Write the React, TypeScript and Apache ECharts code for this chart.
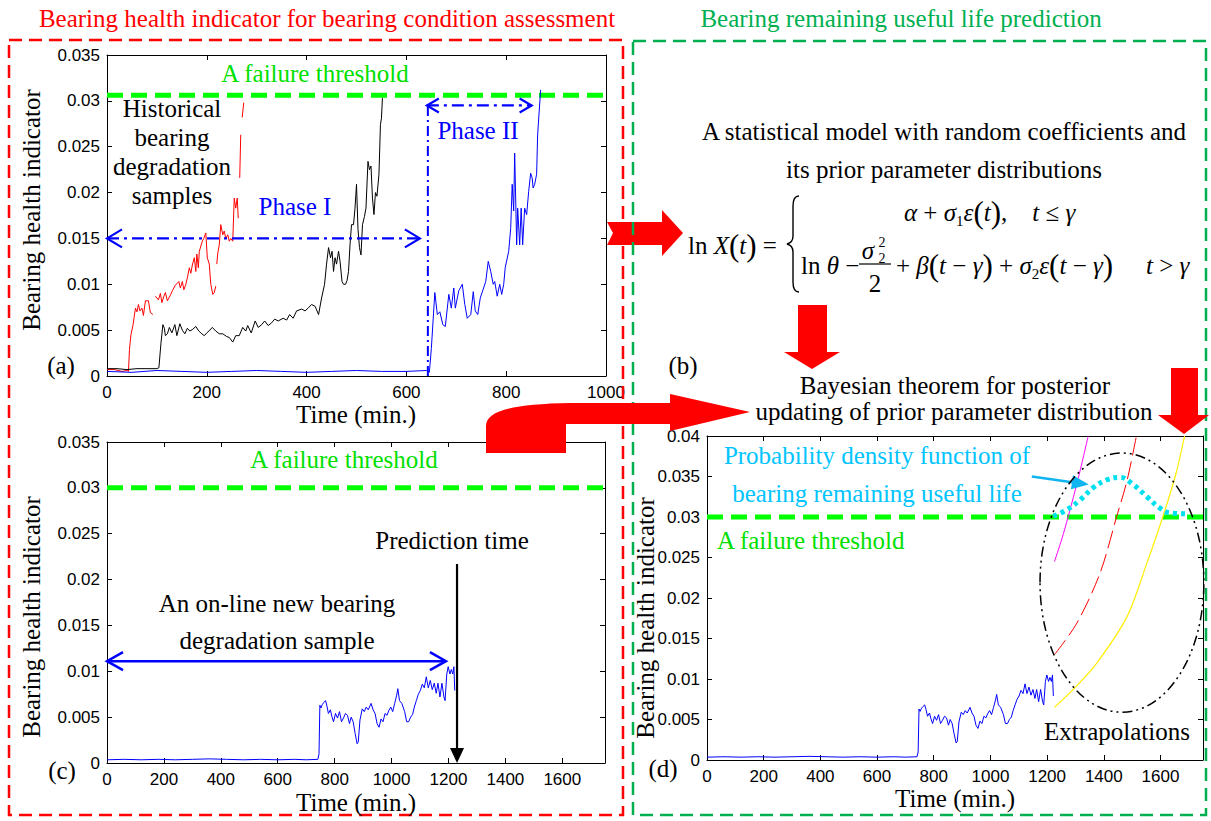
import React, { useEffect, useRef } from 'react';
import * as echarts from 'echarts';

const W = 1211;
const H = 821;
const SERIF = "'Liberation Serif', 'Times New Roman', serif";
const SANS = "'Liberation Sans', Arial, sans-serif";

// ---------- panel (a): historical degradation samples ----------
const redA1 = [[0, 0.0007], [15, 0.0007], [30, 0.0005], [40, 0.0006], [43, 0.0005], [45, 0.0029], [48, 0.0045], [52, 0.0055], [57, 0.0074], [60, 0.007], [63, 0.0078], [66, 0.0071], [70, 0.0074], [73, 0.0066], [77, 0.0082], [83, 0.0082], [87, 0.0069], [90, 0.0068], [92, 0.0067]];
const redA2 = [[97, 0.0087], [103, 0.0083], [107, 0.009], [110, 0.008], [114, 0.0087], [117, 0.0091], [121, 0.0082], [127, 0.0088], [131, 0.0093], [137, 0.0099], [144, 0.0103], [147, 0.0096], [151, 0.0103], [154, 0.0094], [158, 0.01], [161, 0.0107], [165, 0.0118], [168, 0.0112], [171, 0.0121], [175, 0.0129], [178, 0.0114], [180, 0.0133], [183, 0.0118], [185, 0.0136], [191, 0.0147], [194, 0.015], [198, 0.0156], [201, 0.0129], [205, 0.0122], [208, 0.01], [212, 0.0089], [215, 0.0091], [218, 0.0098]];
const redA3 = [[220, 0.0122], [222, 0.0134], [225, 0.0143], [228, 0.0165], [232, 0.0154], [235, 0.0158], [238, 0.015], [242, 0.0154], [245, 0.0147], [248, 0.015], [252, 0.0147], [255, 0.0194], [258, 0.0183], [261, 0.0194], [263, 0.0172]];
const redA4 = [[266, 0.0216], [268, 0.0263]];
const redA5 = [[271, 0.0282], [274, 0.0298]];

const blackA = [[0, 0.0008], [20, 0.0008], [40, 0.0007], [60, 0.0008], [80, 0.0008], [100, 0.0008], [104, 0.0009], [108, 0.0035], [112, 0.0056], [115, 0.0052], [117, 0.0044], [121, 0.0046], [125, 0.0053], [130, 0.0047], [136, 0.0056], [140, 0.0044], [146, 0.0057], [151, 0.005], [156, 0.0046], [161, 0.0052], [166, 0.0049], [172, 0.0051], [178, 0.0054], [184, 0.0049], [190, 0.0046], [195, 0.0044], [200, 0.0047], [206, 0.005], [211, 0.0053], [218, 0.0049], [225, 0.0046], [232, 0.0046], [240, 0.0043], [245, 0.0042], [252, 0.0037], [258, 0.0044], [265, 0.0044], [272, 0.0053], [278, 0.0049], [282, 0.0055], [289, 0.0047], [297, 0.006], [303, 0.0053], [310, 0.0056], [316, 0.006], [323, 0.0055], [330, 0.0058], [336, 0.0062], [343, 0.006], [353, 0.0063], [360, 0.0061], [366, 0.0067], [373, 0.0063], [380, 0.0071], [390, 0.0073], [397, 0.0071], [403, 0.0074], [410, 0.0078], [417, 0.0076], [424, 0.0067], [430, 0.0085], [436, 0.01], [440, 0.0122], [444, 0.014], [448, 0.0129], [451, 0.0136], [454, 0.0114], [457, 0.0129], [460, 0.0122], [464, 0.0136], [467, 0.0125], [471, 0.0103], [474, 0.01], [478, 0.01], [481, 0.0104], [484, 0.0114], [487, 0.0143], [490, 0.0165], [494, 0.0165], [497, 0.0183], [500, 0.0209], [503, 0.016], [506, 0.014], [509, 0.0132], [512, 0.0165], [516, 0.0174], [519, 0.0183], [523, 0.0234], [526, 0.0225], [529, 0.0229], [532, 0.0194], [535, 0.0176], [538, 0.02], [541, 0.0196], [545, 0.022], [548, 0.0274], [550, 0.0281], [552, 0.0303]];

const blueA = [[0, 0.0005], [50, 0.0004], [100, 0.0006], [150, 0.0005], [200, 0.0004], [250, 0.0005], [300, 0.0006], [350, 0.0005], [400, 0.0004], [450, 0.0005], [500, 0.0006], [550, 0.0005], [600, 0.0005], [640, 0.0006], [646, 0.0004], [650, 0.003], [657, 0.0091], [662, 0.0067], [667, 0.007], [673, 0.0056], [678, 0.0054], [685, 0.0089], [690, 0.0074], [695, 0.0096], [698, 0.0074], [705, 0.0093], [712, 0.01], [717, 0.0078], [722, 0.0063], [729, 0.0067], [734, 0.0092], [738, 0.0071], [743, 0.0067], [748, 0.0085], [759, 0.0103], [764, 0.0125], [769, 0.0114], [774, 0.01], [777, 0.0103], [782, 0.0087], [787, 0.01], [791, 0.0089], [795, 0.01], [798, 0.0118], [805, 0.0136], [809, 0.0161], [812, 0.0209], [815, 0.018], [817, 0.0243], [821, 0.0143], [823, 0.0183], [827, 0.0143], [830, 0.0183], [833, 0.0143], [837, 0.0183], [841, 0.0176], [845, 0.0201], [849, 0.0221], [852, 0.0216], [854, 0.0205], [857, 0.0209], [861, 0.022], [863, 0.0263], [869, 0.0312]];

const thresholdA = 0.0306;
const phaseSplit = 643;
const phaseOne = [0, 627, 0.015];
const phaseTwo = [641, 851, 0.0295];

// ---------- panels (c) and (d): on-line bearing ----------
const blueOnline = [[0, 0.00035], [60, 0.0004], [120, 0.00035], [180, 0.0004], [240, 0.00035], [300, 0.0004], [360, 0.00045], [420, 0.0004], [480, 0.00035], [540, 0.0004], [600, 0.00035], [660, 0.0004], [700, 0.00035], [741, 0.0004], [745, 0.001], [748, 0.0063], [752, 0.006], [757, 0.0064], [762, 0.0066], [768, 0.0068], [773, 0.0062], [778, 0.0054], [785, 0.0058], [790, 0.0051], [796, 0.0045], [803, 0.0054], [810, 0.0049], [817, 0.0056], [824, 0.0045], [831, 0.0049], [838, 0.0054], [845, 0.0052], [852, 0.0043], [858, 0.005], [865, 0.0045], [872, 0.0032], [879, 0.0021], [883, 0.0023], [889, 0.0047], [897, 0.0059], [904, 0.0056], [911, 0.0061], [918, 0.0058], [928, 0.0065], [935, 0.0058], [942, 0.0054], [949, 0.0043], [956, 0.0039], [963, 0.0048], [970, 0.0045], [977, 0.0054], [984, 0.0052], [990, 0.0057], [997, 0.0061], [1004, 0.0056], [1011, 0.0065], [1018, 0.0074], [1022, 0.0081], [1028, 0.0068], [1036, 0.0065], [1046, 0.0056], [1053, 0.0045], [1060, 0.0045], [1067, 0.005], [1074, 0.0053], [1080, 0.0061], [1087, 0.0068], [1094, 0.0075], [1101, 0.0079], [1108, 0.0086], [1115, 0.0082], [1122, 0.0094], [1129, 0.0082], [1136, 0.009], [1143, 0.008], [1150, 0.0087], [1157, 0.0076], [1163, 0.0087], [1170, 0.0072], [1177, 0.0087], [1184, 0.0072], [1188, 0.0068], [1194, 0.0097], [1199, 0.0105], [1205, 0.0097], [1210, 0.0102], [1215, 0.0097], [1219, 0.0105], [1222, 0.0079]];

const thresholdCD = 0.03;
const onlineSpan = [0, 1191, 0.0111];
const predictionTime = [1230, 0.0217, 1230, 0];

const extraMagenta = [[1226, 0.0245], [1252, 0.0273], [1274, 0.03], [1310, 0.0348], [1345, 0.04]];
const extraRed = [[1226, 0.013], [1305, 0.0169], [1387, 0.0231], [1445, 0.03], [1482, 0.0345], [1515, 0.04]];
const extraYellow = [[1226, 0.0065], [1300, 0.009], [1376, 0.012], [1482, 0.0177], [1552, 0.0243], [1608, 0.03], [1655, 0.0354], [1685, 0.04]];
const rulPdf = [[1222, 0.0301], [1270, 0.0309], [1316, 0.0321], [1362, 0.0336], [1411, 0.0346], [1457, 0.0349], [1504, 0.034], [1552, 0.0325], [1598, 0.0311], [1633, 0.0305], [1693, 0.0304]];
const pdfPointer = [1146, 0.035, 1347, 0.034];
const extrapolationRing = [1464, 0.0219, 1753, 0.0379];

// ---------- shapes ----------
const SHAPES: Record<string, string> = {
  arrowRight: 'M607,222 L662,222 L662,210 L683,233 L662,256 L662,245 L607,245 L613,233 Z',
  arrowDownB: 'M798,305 L827,305 L827,352 L840,352 L812,369 L784,352 L798,352 Z',
  arrowDownD: 'M1171,368 L1198,368 L1198,415 L1209,415 L1184,434 L1158,415 L1171,415 Z',
  arrowCurve: 'M486,453 L486,426 C486,411 512,404 570,403 L670,403 L670,394 L750,412 L670,431 L670,424 L566,424 L566,453 Z',
  brace: 'M799,196 C794,196 793,200 793,206 L793,236 C793,241 791,243 787,244 C791,245 793,247 793,252 L793,282 C793,288 794,292 799,292',
};

let shapesReady = false;
function registerShapes() {
  if (shapesReady) return;
  Object.keys(SHAPES).forEach((k) => {
    echarts.graphic.registerShape(k, echarts.graphic.extendPath(SHAPES[k], {}));
  });
  shapesReady = true;
}

const xFmt = (v: number) => String(Math.round(v));
const yFmt = (v: number) => (v === 0 ? '0' : String(parseFloat(v.toFixed(4))));

function axesFor(g: number, xMax: number, yMax: number, hideMaxX: boolean) {
  const common = {
    gridIndex: g,
    type: 'value',
    axisLine: { show: true, onZero: false, lineStyle: { color: '#000', width: 1 } },
    axisTick: { show: true, inside: true, length: 5, lineStyle: { color: '#000', width: 1 } },
    splitLine: { show: false },
  };
  const label = { color: '#000', fontFamily: SANS, fontSize: 17 };
  const x = [
    { ...common, position: 'bottom', min: 0, max: xMax, interval: 200, axisLabel: { ...label, margin: 8, showMaxLabel: !hideMaxX, formatter: xFmt } },
    { ...common, position: 'top', min: 0, max: xMax, interval: 200, axisLabel: { show: false } },
  ];
  const y = [
    { ...common, position: 'left', min: 0, max: yMax, interval: 0.005, axisLabel: { ...label, margin: 7, formatter: yFmt } },
    { ...common, position: 'right', min: 0, max: yMax, interval: 0.005, axisLabel: { show: false } },
  ];
  return { x, y };
}

function withGaps(...segs: number[][][]) {
  const out: any[] = [];
  segs.forEach((s, i) => {
    if (i > 0) out.push([s[0][0], '-']);
    s.forEach((p) => out.push(p));
  });
  return out;
}

function line(g: number, data: any[], color: string, width = 1, type: any = 'solid', extra: any = {}) {
  return {
    type: 'line', xAxisIndex: 2 * g, yAxisIndex: 2 * g, data, symbol: 'none', showSymbol: false,
    lineStyle: { color, width, type }, silent: true, z: 3, ...extra,
  };
}

function doubleArrow(g: number, spec: number[], color: string, width: number, dash: number[] | null, L: number, Hh: number) {
  return {
    type: 'custom', xAxisIndex: 2 * g, yAxisIndex: 2 * g, data: [spec], silent: true, z: 6,
    renderItem: (_p: any, api: any) => {
      const a = api.coord([api.value(0), api.value(2)]);
      const b = api.coord([api.value(1), api.value(2)]);
      const st = { stroke: color, lineWidth: width, fill: 'none' };
      return {
        type: 'group',
        children: [
          { type: 'line', shape: { x1: a[0], y1: a[1], x2: b[0], y2: b[1] }, style: { ...st, lineDash: dash } },
          { type: 'polyline', shape: { points: [[a[0] + L, a[1] - Hh], [a[0], a[1]], [a[0] + L, a[1] + Hh]] }, style: st },
          { type: 'polyline', shape: { points: [[b[0] - L, b[1] - Hh], [b[0], b[1]], [b[0] - L, b[1] + Hh]] }, style: st },
        ],
      };
    },
  };
}

function pointer(g: number, spec: number[], color: string, width: number, hl: number, hw: number) {
  return {
    type: 'custom', xAxisIndex: 2 * g, yAxisIndex: 2 * g, data: [spec], silent: true, z: 6,
    renderItem: (_p: any, api: any) => {
      const a = api.coord([api.value(0), api.value(1)]);
      const b = api.coord([api.value(2), api.value(3)]);
      const ang = Math.atan2(b[1] - a[1], b[0] - a[0]);
      const c = Math.cos(ang);
      const s = Math.sin(ang);
      const bx = b[0] - hl * c;
      const by = b[1] - hl * s;
      return {
        type: 'group',
        children: [
          { type: 'line', shape: { x1: a[0], y1: a[1], x2: bx, y2: by }, style: { stroke: color, lineWidth: width } },
          { type: 'polygon', shape: { points: [[b[0], b[1]], [bx + hw * s, by - hw * c], [bx - hw * s, by + hw * c]] }, style: { fill: color } },
        ],
      };
    },
  };
}

function buildOption() {
  const A = axesFor(0, 1000, 0.035, false);
  const C = axesFor(1, 1750, 0.035, true);
  const D = axesFor(2, 1750, 0.04, true);

  const text = (t: string, x: number, y: number, extra: any = {}) => ({
    type: 'text', x, y, z: 60, silent: true,
    style: { text: t, fontFamily: SERIF, fontSize: 25, fill: '#000', align: 'center', verticalAlign: 'middle', ...extra },
  });
  const rot = (t: string, x: number, y: number) => ({ ...text(t, x, y), rotation: Math.PI / 2 });
  const shape = (type: string, style: any, z = 50) => ({ type, x: 0, y: 0, z, silent: true, style });

  const rich = {
    i: { fontFamily: SERIF, fontStyle: 'italic', fontSize: 25, fill: '#000', lineHeight: 32 },
    n: { fontFamily: SERIF, fontSize: 25, fill: '#000', lineHeight: 32 },
    p: { fontFamily: SERIF, fontSize: 31, fill: '#000', lineHeight: 32 },
    s: { fontFamily: SERIF, fontSize: 15, fill: '#000', lineHeight: 17, verticalAlign: 'bottom' },
  };
  const eq = (t: string, x: number, y: number) => ({
    type: 'text', x, y, z: 60, silent: true,
    style: { text: t, rich, fontFamily: SERIF, fontSize: 25, fill: '#000', lineHeight: 32, align: 'left', verticalAlign: 'middle' },
  });
  const red = { fill: '#ff0000' };

  const graphic = [
    // section frames
    { type: 'rect', z: 1, silent: true, shape: { x: 9, y: 40, width: 614, height: 775 }, style: { fill: 'none', stroke: '#ff0000', lineWidth: 2.5, lineDash: [13, 7] } },
    { type: 'rect', z: 1, silent: true, shape: { x: 633, y: 41, width: 573, height: 774 }, style: { fill: 'none', stroke: '#00b050', lineWidth: 2.5, lineDash: [13, 7] } },
    shape('arrowRight', red, 0),
    text('Bearing health indicator for bearing condition assessment', 327, 18, { fill: '#ff0000' }),
    text('Bearing remaining useful life prediction', 901, 18, { fill: '#00b050' }),

    // panel (a)
    text('A failure threshold', 315, 73, { fill: '#00e000' }),
    text('Historical', 172, 108),
    text('bearing', 172, 137),
    text('degradation', 172, 166),
    text('samples', 172, 195),
    text('Phase I', 295, 206, { fill: '#0000ff' }),
    text('Phase II', 478, 130, { fill: '#0000ff' }),
    text('(a)', 61, 365),
    rot('Bearing health indicator', 31, 210),
    text('Time (min.)', 356, 414),

    // panel (b)
    text('A statistical model with random coefficients and', 944, 131),
    text('its prior parameter distributions', 944, 169),
    eq('{n|ln }{i|X}{p|(}{i|t}{p|)} =', 688, 245),
    shape('brace', { fill: 'none', stroke: '#000', lineWidth: 1.4 }),
    eq('{i|α} + {i|σ}{s|1}{i|ε}{p|(}{i|t}{p|)},    {i|t} ≤ {i|γ}', 904, 212),
    eq('{n|ln}{i| θ} −', 801, 265),
    text('σ', 868, 250, { fontStyle: 'italic' }),
    text('2', 882, 242, { fontSize: 14 }),
    text('2', 882, 258, { fontSize: 14 }),
    { type: 'line', z: 60, silent: true, shape: { x1: 859, y1: 264, x2: 891, y2: 264 }, style: { stroke: '#000', lineWidth: 1.2 } },
    text('2', 875, 283),
    eq('+ {i|β}{p|(}{i|t} − {i|γ}{p|)} + {i|σ}{s|2}{i|ε}{p|(}{i|t} − {i|γ}{p|)}', 896, 265),
    eq('{i|t} > {i|γ}', 1146, 265),
    text('(b)', 683, 365),
    text('Bayesian theorem for posterior', 955, 385),
    text('updating of prior parameter distribution', 954, 411),
    shape('arrowDownB', red),
    shape('arrowDownD', red, 61),
    shape('arrowCurve', red, 61),

    // panel (c)
    text('A failure threshold', 344, 459, { fill: '#00e000' }),
    text('Prediction time', 452, 540),
    text('An on-line new bearing', 277, 603),
    text('degradation sample', 277, 640),
    text('(c)', 62, 770),
    rot('Bearing health indicator', 31, 617),
    text('Time (min.)', 356, 802),

    // panel (d)
    text('Probability density function of', 877, 455, { fill: '#00c4ff' }),
    text('bearing remaining useful life', 877, 493, { fill: '#00c4ff' }),
    text('A failure threshold', 717, 540, { fill: '#00e000', align: 'left' }),
    text('Extrapolations', 1117, 731),
    text('(d)', 663, 768),
    rot('Bearing health indicator', 645, 618),
    text('Time (min.)', 955, 798),
  ];

  const dashDot = [12, 5, 3, 5];

  const series: any[] = [
    // (a)
    line(0, [[0, thresholdA], [1000, thresholdA]], '#00ff00', 5, [16, 8], { z: 2 }),
    line(0, withGaps(redA1, redA2, redA3, redA4, redA5), '#ff0000'),
    line(0, blackA, '#000000'),
    line(0, blueA, '#0000ff'),
    line(0, [[phaseSplit, 0], [phaseSplit, 0.0298]], '#0000ff', 2, [10, 4, 2, 4], { z: 4 }),
    doubleArrow(0, phaseOne, '#0000ff', 2.2, dashDot, 15, 9),
    doubleArrow(0, phaseTwo, '#0000ff', 2.2, dashDot, 12, 7),

    // (c)
    line(1, [[0, thresholdCD], [1750, thresholdCD]], '#00ff00', 5, [16, 8], { z: 2 }),
    line(1, blueOnline, '#0000ff'),
    doubleArrow(1, onlineSpan, '#0000ff', 2.5, null, 16, 9),
    pointer(1, predictionTime, '#000000', 2.2, 15, 7),

    // (d)
    line(2, [[0, thresholdCD], [1750, thresholdCD]], '#00ff00', 5, [16, 8], { z: 2 }),
    line(2, blueOnline, '#0000ff'),
    line(2, extraMagenta, '#ff00ff', 1, 'solid', { smooth: 0.3 }),
    line(2, extraRed, '#ff0000', 1, [18, 6], { smooth: 0.3 }),
    line(2, extraYellow, '#ffee00', 1.2, 'solid', { smooth: 0.3 }),
    line(2, rulPdf, '#00e0f0', 5, [4, 4], { smooth: 0.4, z: 5 }),
    pointer(2, pdfPointer, '#10b4f0', 2.5, 17, 7),
    {
      type: 'custom', xAxisIndex: 4, yAxisIndex: 4, data: [extrapolationRing], silent: true, z: 6,
      renderItem: (_p: any, api: any) => {
        const c = api.coord([api.value(0), api.value(1)]);
        const r = api.coord([api.value(2), api.value(3)]);
        return {
          type: 'ellipse',
          shape: { cx: c[0], cy: c[1], rx: r[0] - c[0], ry: c[1] - r[1] },
          style: { fill: 'none', stroke: '#000', lineWidth: 1.5, lineDash: [10, 4, 2, 4, 2, 4] },
        };
      },
    },
  ];

  return {
    animation: false,
    backgroundColor: '#ffffff',
    grid: [
      { left: 107, top: 55, width: 499, height: 321, outerBoundsMode: 'none' },
      { left: 107, top: 442, width: 498, height: 321, outerBoundsMode: 'none' },
      { left: 707, top: 436, width: 496, height: 324, outerBoundsMode: 'none' },
    ],
    xAxis: [...A.x, ...C.x, ...D.x],
    yAxis: [...A.y, ...C.y, ...D.y],
    series,
    graphic,
  };
}

export default function App() {
  const ref = useRef<HTMLDivElement>(null);
  useEffect(() => {
    if (!ref.current) return;
    registerShapes();
    const chart = echarts.init(ref.current, null, { renderer: 'svg' });
    chart.setOption(buildOption() as any);
    return () => chart.dispose();
  }, []);
  return (
    <div
      ref={ref}
      style={{ position: 'absolute', left: 0, top: 0, width: W, height: H, background: '#fff' }}
    />
  );
}
